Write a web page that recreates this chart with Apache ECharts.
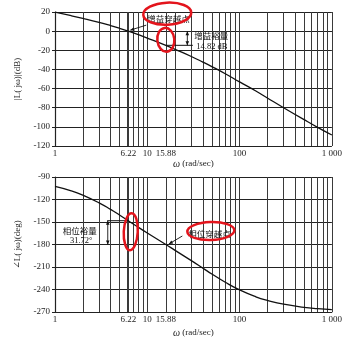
<!DOCTYPE html>
<html>
<head>
<meta charset="utf-8">
<script src="https://cdn.jsdelivr.net/npm/echarts@6/dist/echarts.min.js"></script>
<style>
  html, body { margin: 0; padding: 0; background: #fff; }
  #main { width: 345px; height: 340px; }
</style>
</head>
<body>
<div id="main"></div>
<script>
// frequency samples (rad/sec)
var omega = [1, 1.5, 2, 3, 4, 5, 6.22, 8, 10, 15.88, 20, 30, 40, 50, 70, 100, 150, 200, 300, 500, 700, 1000]
// |L(jw)| in dB
var magDb = [19.8, 16.1, 13.3, 9.1, 5.8, 3.0, 0, -3.7, -7.2, -14.82, -19.0, -26.5, -32.3, -37.0, -44.5, -53.0, -62.5, -69.8, -80.0, -92.5, -100.5, -108.5]
// angle L(jw) in deg
var phaseDeg = [-102.5, -108.4, -114.1, -124.4, -133.2, -140.7, -148.28, -157.1, -164.7, -180, -187.8, -201.5, -211.5, -219.3, -230.4, -240.6, -249.7, -254.5, -259.6, -263.7, -265.5, -266.9]
// x tick labels
var xTicks = [1, 6.22, 10, 15.88, 100, 1000]
// vertical grid lines of the log paper
var gridFreq = [2, 3, 4, 5, 6, 6.22, 7, 8, 9, 10, 15.88, 20, 30, 40, 50, 60, 70, 80, 90, 100,
  200, 300, 400, 500, 600, 700, 800, 900, 1000]

var serif = '"Liberation Serif", "DejaVu Serif", serif'
var cjk = '"Noto Sans CJK SC", sans-serif'
var ink = '#111'
var red = '#e3141c'

var chart = echarts.init(document.getElementById('main'))

function xAxisOf (gi, gap) {
  return {
    type: 'log',
    logBase: 10,
    gridIndex: gi,
    min: 1,
    max: 1000,
    name: '{w|ω} (rad/sec)',
    nameLocation: 'middle',
    nameGap: gap,
    nameTextStyle: {
      fontFamily: serif,
      fontSize: 9,
      color: '#222',
      rich: { w: { fontFamily: serif, fontSize: 10, fontStyle: 'italic', color: '#222' } }
    },
    axisLine: { lineStyle: { color: '#222', width: 1 } },
    axisTick: { show: false },
    axisLabel: {
      customValues: xTicks,
      margin: 3,
      fontFamily: serif,
      fontSize: 9,
      color: '#222',
      formatter: function (v) { return v === 1000 ? '1 000' : String(v) }
    },
    splitLine: { show: false }
  }
}

function yAxisOf (gi, min, max, step, name) {
  return {
    type: 'value',
    gridIndex: gi,
    min: min,
    max: max,
    interval: step,
    name: name,
    nameLocation: 'middle',
    nameGap: 29,
    nameTextStyle: { fontFamily: serif, fontSize: 9, color: '#222' },
    axisLine: { show: true, lineStyle: { color: '#222', width: 1.2 } },
    axisTick: { show: true, length: 3, lineStyle: { color: '#222' } },
    axisLabel: { margin: 5, fontFamily: serif, fontSize: 9, color: '#222' },
    splitLine: { show: true, lineStyle: { color: '#222', width: 1.1 } }
  }
}

function curve (xi, data) {
  return {
    type: 'line',
    xAxisIndex: xi,
    yAxisIndex: xi,
    data: omega.map(function (w, i) { return [w, data[i]] }),
    smooth: true,
    showSymbol: false,
    silent: true,
    z: 5,
    lineStyle: { color: ink, width: 1.3 },
    markLine: {
      silent: true,
      symbol: 'none',
      label: { show: false },
      lineStyle: { type: 'solid', color: '#3a3a3a', width: 1 },
      data: gridFreq.map(function (f) { return { xAxis: f } })
    }
  }
}

chart.setOption({
  animation: false,
  backgroundColor: '#fff',
  grid: [
    { left: 55, right: 12, top: 12, height: 134 },
    { left: 55, right: 12, top: 177, height: 135 }
  ],
  xAxis: [xAxisOf(0, 13), xAxisOf(1, 16)],
  yAxis: [
    yAxisOf(0, -120, 20, 20, '|L( jω)|(dB)'),
    yAxisOf(1, -270, -90, 30, '∠L( jω)(deg)')
  ],
  series: [curve(0, magDb), curve(1, phaseDeg)]
})

// ---- annotations, anchored on the data points ----
function px (gi, x, y) { return chart.convertToPixel({ gridIndex: gi }, [x, y]) }

function seg (x1, y1, x2, y2, w) {
  return { type: 'line', z: 20, shape: { x1: x1, y1: y1, x2: x2, y2: y2 }, style: { stroke: ink, lineWidth: w || 0.9 } }
}
function head (x1, y1, x2, y2) {
  var a = Math.atan2(y2 - y1, x2 - x1)
  var L = 4, W = 1.8
  var bx = x2 - L * Math.cos(a), by = y2 - L * Math.sin(a)
  return {
    type: 'polygon', z: 21,
    shape: { points: [[x2, y2], [bx - W * Math.sin(a), by + W * Math.cos(a)], [bx + W * Math.sin(a), by - W * Math.cos(a)]] },
    style: { fill: ink }
  }
}
function arrow (x1, y1, x2, y2) { return [seg(x1, y1, x2, y2), head(x1, y1, x2, y2)] }
function dblArrow (x, y1, y2) { return [seg(x, y1, x, y2), head(x, y2, x, y1), head(x, y1, x, y2)] }
function label (t, x, y, font, align) {
  return {
    type: 'text', z: 22, x: x, y: y,
    style: { text: t, fontFamily: font, fontSize: 8.5, fill: ink, align: align || 'left', verticalAlign: 'middle', textAlign: align || 'left', textVerticalAlign: 'middle' }
  }
}
function ring (cx, cy, rx, ry, rot) {
  return {
    type: 'ellipse', z: 30, x: cx, y: cy, rotation: rot || 0,
    shape: { cx: 0, cy: 0, rx: rx, ry: ry },
    style: { fill: 'none', stroke: red, lineWidth: 2.5 }
  }
}

var gc = px(0, 6.22, 0)
var gm = px(0, 15.88, -14.82)
var pm = px(1, 6.22, -148.28)
var pc = px(1, 15.88, -180)

var els = []
// gain crossover
els = els.concat(arrow(gc[0] + 18, gc[1] - 6, gc[0] + 2, gc[1] - 1))
els.push(label('增益穿越点', gc[0] + 19, gc[1] - 12, cjk))
els.push(ring(gc[0] + 39, gc[1] - 17.5, 24, 11, 0.05))
// gain margin
els.push(seg(gm[0], gm[1], gm[0] + 27, gm[1], 1))
els = els.concat(dblArrow(gm[0] + 21.5, gc[1], gm[1]))
els.push(label('增益裕量', gm[0] + 28.5, gm[1] - 9.5, cjk))
els.push(label('14.82 dB', gm[0] + 30.5, gm[1] + 1, serif))
els.push(ring(gm[0], gm[1] - 5.5, 8.5, 12, 0.1))
// phase margin
els.push(seg(pm[0] - 21, pm[1], pm[0], pm[1], 1))
els = els.concat(dblArrow(pm[0] - 20.5, pm[1], pc[1]))
els.push(label('相位裕量', pm[0] - 48.5, pm[1] + 10, cjk, 'center'))
els.push(label('31.72°', pm[0] - 47, pm[1] + 20, serif, 'center'))
els.push(ring(pm[0] + 2.5, pm[1] + 11, 7, 18.5, -0.05))
// phase crossover
els = els.concat(arrow(pc[0] + 16.5, pc[1] - 8.5, pc[0] + 3, pc[1] - 0.5))
els.push(label('相位穿越点', pc[0] + 22.5, pc[1] - 11, cjk))
els.push(ring(pc[0] + 45, pc[1] - 13.5, 23.5, 9, 0.03))

chart.setOption({ graphic: { elements: els } })
</script>
</body>
</html>
